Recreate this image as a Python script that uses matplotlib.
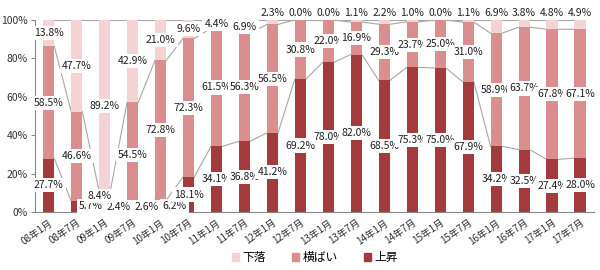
import matplotlib
matplotlib.use('Agg')
import matplotlib.pyplot as plt
import numpy as np
from matplotlib.patches import Patch

plt.rcParams['font.family'] = ['Noto Sans CJK JP', 'DejaVu Sans']

# データ
categories = ['08年1月', '08年7月', '09年1月', '09年7月', '10年1月', '10年7月',
              '11年1月', '11年7月', '12年1月', '12年7月', '13年1月', '13年7月',
              '14年1月', '14年7月', '15年1月', '15年7月', '16年1月', '16年7月',
              '17年1月', '17年7月']
rise = [27.7, 5.7, 2.4, 2.6, 6.2, 18.1, 34.1, 36.8, 41.2, 69.2,
        78.0, 82.0, 68.5, 75.3, 75.0, 67.9, 34.2, 32.5, 27.4, 28.0]
flat = [58.5, 46.6, 8.4, 54.5, 72.8, 72.3, 61.5, 56.3, 56.5, 30.8,
        22.0, 16.9, 29.3, 23.7, 25.0, 31.0, 58.9, 63.7, 67.8, 67.1]
fall = [13.8, 47.7, 89.2, 42.9, 21.0, 9.6, 4.4, 6.9, 2.3, 0.0,
        0.0, 1.1, 2.2, 1.0, 0.0, 1.1, 6.9, 3.8, 4.8, 4.9]

c_rise = '#A33B3E'
c_flat = '#DA8E90'
c_fall = '#F3D3D4'

x = np.arange(len(categories))
w = 0.4
rise_a = np.array(rise)
flat_a = np.array(flat)
fall_a = np.array(fall)

fig = plt.figure(figsize=(6, 2.7), dpi=100)
ax = fig.add_axes([0.058, 0.215, 0.932, 0.711])

ax.bar(x, rise_a, w, color=c_rise, zorder=2)
ax.bar(x, flat_a, w, bottom=rise_a, color=c_flat, zorder=2)
ax.bar(x, fall_a, w, bottom=rise_a + flat_a, color=c_fall, zorder=2)

# 区分線
for top in [rise_a, rise_a + flat_a, rise_a + flat_a + fall_a]:
    for i in range(len(x) - 1):
        ax.plot([x[i] + w / 2, x[i + 1] - w / 2], [top[i], top[i + 1]],
                color='#A6A6A6', lw=0.8, zorder=1)

bb = dict(boxstyle='square,pad=0.2', fc='white', ec='none')
fs = 7.5
for i in range(len(x)):
    # 上昇
    xo = 0.5 if i in (1, 2, 3, 4) else 0
    ax.text(x[i] + xo, max(rise[i] / 2, 2.4), f'{rise[i]:.1f}%', ha='center',
            va='center', fontsize=fs, bbox=bb, zorder=5, color='#202020')
    # 横ばい
    xo, yo = (-0.2, 1.6) if i == 2 else (0, 0)
    ax.text(x[i] + xo, rise[i] + flat[i] / 2 + yo, f'{flat[i]:.1f}%', ha='center',
            va='center', fontsize=fs, bbox=bb, zorder=6, color='#202020')
    # 下落
    yf = 103.5 if i >= 8 else rise[i] + flat[i] + fall[i] / 2
    ax.text(x[i], yf, f'{fall[i]:.1f}%', ha='center', va='center',
            fontsize=fs, bbox=bb, zorder=5, color='#202020')

ax.set_xlim(-0.5, len(x) - 0.5)
ax.set_ylim(0, 100)
ax.set_yticks([0, 20, 40, 60, 80, 100])
ax.set_yticklabels(['0%', '20%', '40%', '60%', '80%', '100%'])
ax.set_xticks(x)
ax.set_xticklabels(categories, rotation=35, ha='right', rotation_mode='anchor')
ax.tick_params(axis='x', length=0, labelsize=7, colors='#303030', pad=4)
ax.tick_params(axis='y', length=3, labelsize=7.5, colors='#303030', pad=2)
ax.tick_params(axis='y', color='#888888')
for s in ['top', 'right']:
    ax.spines[s].set_visible(False)
for s in ['left', 'bottom']:
    ax.spines[s].set_color('#888888')
    ax.spines[s].set_linewidth(0.8)
ax.patch.set_alpha(0)
for t in ax.texts:
    t.set_clip_on(False)

handles = [Patch(color=c_fall, label='下落'), Patch(color=c_flat, label='横ばい'),
           Patch(color=c_rise, label='上昇')]
fig.legend(handles=handles, loc='center', bbox_to_anchor=(0.525, 0.045), ncol=3,
           frameon=False, fontsize=8.5, handlelength=0.6, handleheight=0.6,
           handletextpad=0.3, columnspacing=2.2)

fig.savefig('out.png', dpi=100)
